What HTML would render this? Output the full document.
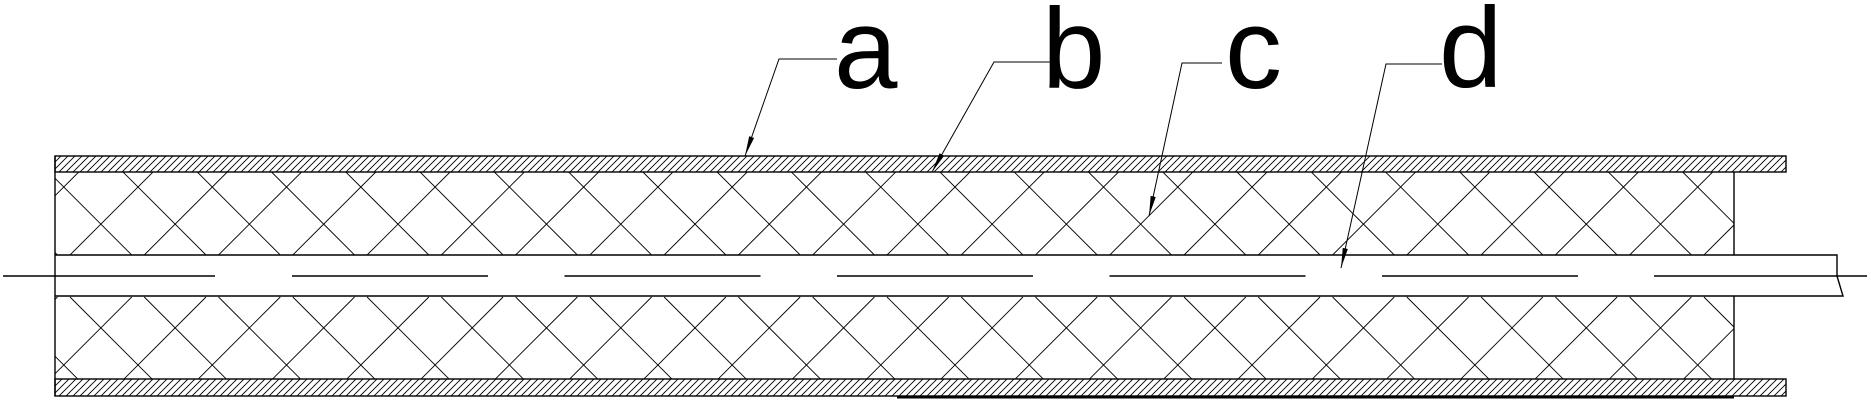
<!DOCTYPE html>
<html><head><meta charset="utf-8"><style>
html,body{margin:0;padding:0;background:#fff;}
svg{display:block;}
text{font-family:"Liberation Sans",Arial,sans-serif;font-size:114px;fill:#000;}
</style></head><body>
<svg id="s" width="1871" height="402" viewBox="0 0 1871 402" xmlns="http://www.w3.org/2000/svg">
<defs>
<pattern id="hatch" patternUnits="userSpaceOnUse" width="7" height="7">
<line x1="0" y1="7" x2="7" y2="0" stroke="#000" stroke-width="0.9"/>
<line x1="-1" y1="1" x2="1" y2="-1" stroke="#000" stroke-width="0.9"/>
<line x1="6" y1="8" x2="8" y2="6" stroke="#000" stroke-width="0.9"/>
</pattern>
<clipPath id="cu"><rect x="55" y="172" width="1679" height="83"/></clipPath>
<clipPath id="cl"><rect x="55" y="296" width="1679" height="83"/></clipPath>
</defs>
<rect x="55" y="156" width="1731" height="16" fill="url(#hatch)"/>
<rect x="55" y="379" width="1731" height="17" fill="url(#hatch)"/>
<g id="cross" stroke="#000" stroke-width="0.9" fill="none"></g>
<g stroke="#000" stroke-width="1.4" fill="none">
<rect x="55" y="156" width="1731" height="16"/>
<rect x="55" y="379" width="1731" height="17"/>
<line x1="55" y1="156" x2="55" y2="396"/>
<line x1="1734" y1="172" x2="1734" y2="255"/>
<line x1="1734" y1="296" x2="1734" y2="379"/>
<polyline points="55,255 1837,255 1837,276 1843,296 55,296"/>
<line x1="897" y1="397.5" x2="1734" y2="397.5" stroke-width="2"/>
</g>
<g id="cl_" stroke="#000" stroke-width="1.4"></g>
<g stroke="#000" stroke-width="1" fill="none">
<polyline points="837,59 779,59 745,156"/>
<polyline points="1050,62 994,62 932,172"/>
<polyline points="1222,63 1182,63 1149,216"/>
<polyline points="1442,64 1386,64 1341,268"/>
</g>
<g id="arrows" fill="#000"></g>
<text x="834" y="88">a</text>
<text x="1042" y="88">b</text>
<text x="1225" y="88">c</text>
<text x="1439" y="87">d</text>
</svg>
<script>
var NS="http://www.w3.org/2000/svg";
function el(p,n,a){var e=document.createElementNS(NS,n);for(var k in a)e.setAttribute(k,a[k]);p.appendChild(e);return e;}
var cross=document.getElementById('cross');
var P=74.27;
var gu=el(cross,'g',{'clip-path':'url(#cu)'});
var gl=el(cross,'g',{'clip-path':'url(#cl)'});
// upper: "/" x+y = 325 + kP ; "\" x-y = -49 + kP
for(var k=-30;k<40;k++){
 var c=325+k*P; // x = c - y
 el(gu,'line',{x1:c-172,y1:172,x2:c-255,y2:255});
 var d=-49+k*P; // x = d + y
 el(gu,'line',{x1:d+172,y1:172,x2:d+255,y2:255});
 // lower mirrored about y=276
 el(gl,'line',{x1:c-172,y1:552-172,x2:c-255,y2:552-255});
 el(gl,'line',{x1:d+172,y1:552-172,x2:d+255,y2:552-255});
}
var clg=document.getElementById('cl_');
el(clg,'line',{x1:3,y1:276,x2:215,y2:276});
var starts=[292,564.5,837,1109.5,1382];
starts.forEach(function(s){el(clg,'line',{x1:s,y1:276,x2:s+196,y2:276});});
el(clg,'line',{x1:1654,y1:276,x2:1867,y2:276});
// arrowheads
var ar=document.getElementById('arrows');
[[745,156,779,59],[932,172,994,62],[1149,216,1182,63],[1341,268,1386,64]].forEach(function(a){
 var dx=a[2]-a[0],dy=a[3]-a[1],L=Math.sqrt(dx*dx+dy*dy);dx/=L;dy/=L;
 var len=20,w=2.6;var bx=a[0]+dx*len,by=a[1]+dy*len;
 el(ar,'polygon',{points:a[0]+','+a[1]+' '+(bx-dy*w)+','+(by+dx*w)+' '+(bx+dy*w)+','+(by-dx*w)});
});
</script>
</body></html>
